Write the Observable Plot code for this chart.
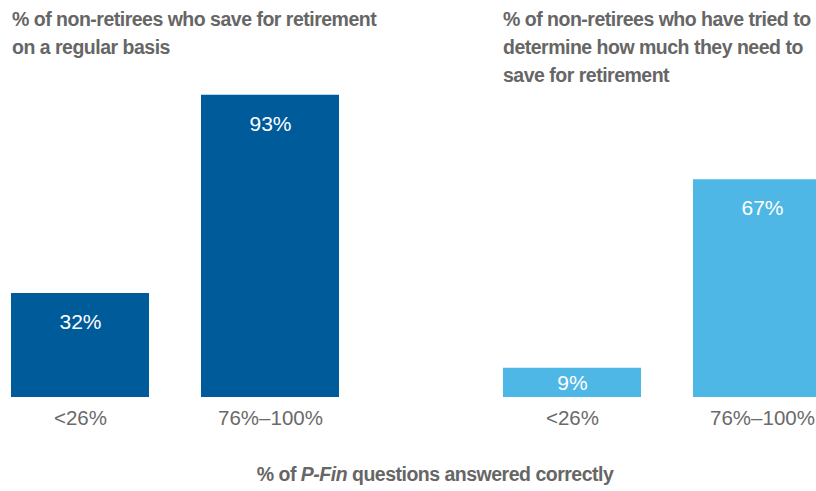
<!DOCTYPE html>
<html>
<head>
<meta charset="utf-8">
<script src="https://cdn.jsdelivr.net/npm/d3@7"></script>
<script src="https://cdn.jsdelivr.net/npm/@observablehq/plot@0.6"></script>
<style>
  html, body { margin: 0; padding: 0; background: #fff; }
  #root { position: relative; width: 816px; height: 491px; overflow: hidden; font-family: "Liberation Sans", Arial, sans-serif; }
  .title { position: absolute; top: 5px; color: #666666; font-weight: bold; font-size: 19.5px; line-height: 28px; letter-spacing: -0.5px; white-space: nowrap; }
  .panel { position: absolute; top: 0; width: 350px; height: 491px; }
  .xlabel { position: absolute; left: 0; width: 870px; top: 463px; text-align: center; color: #666666; font-weight: bold; font-size: 19.5px; letter-spacing: -0.5px; white-space: nowrap; }
</style>
</head>
<body>
<div id="root">
  <div class="title" id="t1" style="left:12px;">% of non-retirees who save for retirement<br>on a regular basis</div>
  <div class="title" id="t2" style="left:503px;">% of non-retirees who have tried to<br>determine how much they need to<br>save for retirement</div>
  <div class="panel" id="p1" style="left:0px;"></div>
  <div class="panel" id="p2" style="left:492px;"></div>
  <div class="xlabel">% of <i>P-Fin</i> questions answered correctly</div>
</div>
<script>
const categories = ["<26%", "76%\u2013100%"];
const saveRegularly = [32, 93];
const triedToDetermine = [9, 67];
const colors = ["#005B9A", "#4FB7E6"];

function panel(values, color) {
  const data = categories.map((c, i) => ({cat: c, value: values[i]}));
  return Plot.plot({
    width: 350,
    height: 491,
    marginLeft: 11,
    marginRight: 11,
    marginTop: 72,
    marginBottom: 94,
    style: {fontFamily: '"Liberation Sans", Arial, sans-serif', background: "transparent", overflow: "visible"},
    x: {domain: categories, paddingInner: 0.2737, paddingOuter: 0, label: null},
    y: {domain: [0, 100], axis: null},
    marks: [
      Plot.barY(data, {x: "cat", y: "value", fill: color}),
      Plot.text(data, {x: "cat", y: d => Math.max(d.value - 8.8, d.value / 2), text: d => d.value + "%", fill: "white", fontSize: 21}),
      Plot.axisX({tickSize: 0, tickPadding: 13, fontSize: 20.5, color: "#6a6a6a", label: null})
    ]
  });
}
document.getElementById("p1").appendChild(panel(saveRegularly, colors[0]));
document.getElementById("p2").appendChild(panel(triedToDetermine, colors[1]));
</script>
</body>
</html>
